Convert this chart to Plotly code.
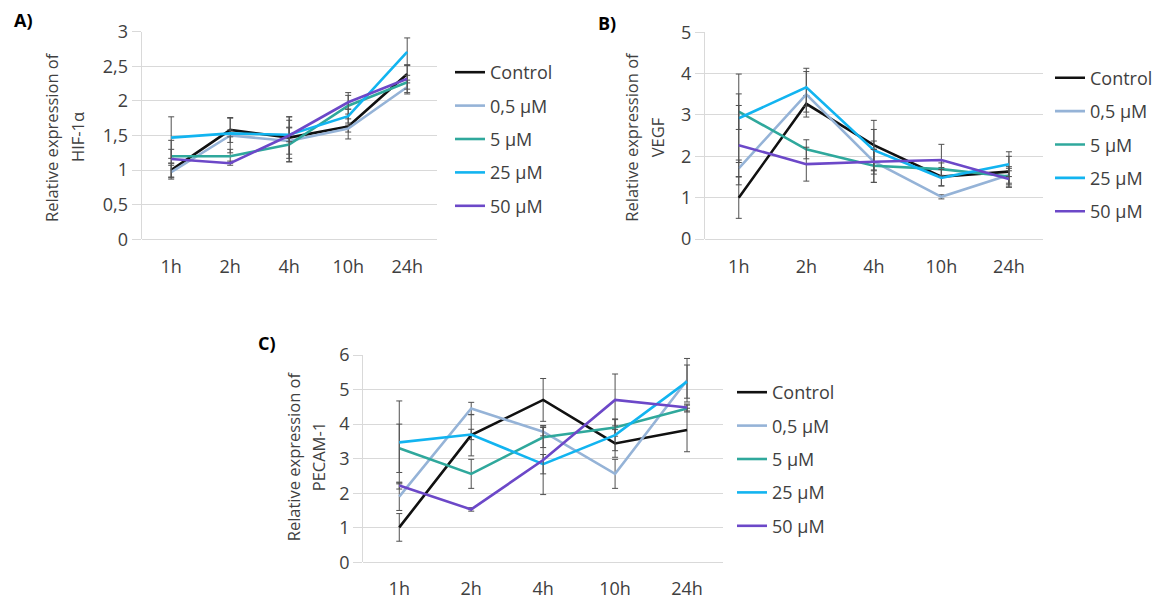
import plotly.graph_objects as go

# Time points and treatment groups
times = ["1h", "2h", "4h", "10h", "24h"]
groups = ["Control", "0,5 µM", "5 µM", "25 µM", "50 µM"]
group_colors = ["#111111", "#95b3d7", "#2fa89c", "#12b4f0", "#6c48c8"]

# A) HIF-1α relative expression (mean per group, same order as `groups`)
hif_mean = [
    [1.00, 1.58, 1.47, 1.63, 2.39],
    [0.97, 1.50, 1.42, 1.60, 2.20],
    [1.20, 1.20, 1.37, 1.93, 2.27],
    [1.47, 1.53, 1.51, 1.78, 2.71],
    [1.16, 1.10, 1.50, 1.98, 2.32],
]
hif_err = [
    [0.10, 0.18, 0.30, 0.18, 0.13],
    [0.10, 0.25, 0.30, 0.05, 0.10],
    [0.10, 0.10, 0.25, 0.19, 0.10],
    [0.30, 0.05, 0.10, 0.10, 0.20],
    [0.27, 0.03, 0.27, 0.10, 0.20],
]

# B) VEGF relative expression
vegf_mean = [
    [1.00, 3.27, 2.27, 1.51, 1.63],
    [1.71, 3.50, 1.87, 1.02, 1.55],
    [3.08, 2.17, 1.77, 1.69, 1.51],
    [2.92, 3.67, 2.15, 1.48, 1.81],
    [2.27, 1.81, 1.87, 1.91, 1.45],
]
vegf_err = [
    [0.50, 0.20, 0.60, 0.22, 0.37],
    [0.20, 0.55, 0.50, 0.05, 0.20],
    [0.43, 0.23, 0.40, 0.15, 0.20],
    [1.07, 0.46, 0.50, 0.20, 0.30],
    [0.96, 0.41, 0.30, 0.38, 0.20],
]

# C) PECAM-1 relative expression
pecam_mean = [
    [1.01, 3.68, 4.70, 3.44, 3.83],
    [1.90, 4.45, 3.78, 2.56, 5.27],
    [3.30, 2.56, 3.62, 3.90, 4.45],
    [3.47, 3.70, 2.84, 3.68, 5.23],
    [2.22, 1.53, 2.96, 4.70, 4.48],
]
pecam_err = [
    [0.40, 0.60, 0.62, 0.40, 0.63],
    [0.40, 0.18, 0.12, 0.42, 0.63],
    [0.70, 0.42, 0.30, 0.25, 0.10],
    [1.20, 0.15, 0.28, 0.45, 0.48],
    [0.10, 0.05, 1.00, 0.75, 0.10],
]

TEXT = "#404040"
GRID = "#d9d9d9"
FONT = "Open Sans"
FS = 18

panels = [
    # (means, errors, x-axis, y-axis, legend)
    (hif_mean, hif_err, "x", "y", "legend"),
    (vegf_mean, vegf_err, "x2", "y2", "legend2"),
    (pecam_mean, pecam_err, "x3", "y3", "legend3"),
]

fig = go.Figure()
for means, errs, xa, ya, lg in panels:
    for k, name in enumerate(groups):
        fig.add_trace(go.Scatter(
            x=times, y=means[k], name=name, mode="lines",
            line=dict(color=group_colors[k], width=2.6),
            error_y=dict(type="data", array=errs[k], visible=True,
                         color="#505050", thickness=1, width=3),
            xaxis=xa, yaxis=ya, legend=lg, legendgroup=f"{lg}-{k}",
        ))

# Plot-area geometry in paper fractions (1162 x 600 page)
W, H = 1162.0, 600.0
def dom_x(a, b):
    return [a / W, b / W]
def dom_y(top, bottom):
    return [1 - bottom / H, 1 - top / H]

def x_common(gap):
    return dict(type="category", categoryorder="array", categoryarray=times,
                range=[-0.5, 4.5], showgrid=False, zeroline=False, showline=False,
                ticks="outside", ticklen=gap, tickcolor="rgba(0,0,0,0)", automargin=False,
                tickfont=dict(family=FONT, size=FS, color=TEXT), fixedrange=True)

def y_common(ymax, step):
    return dict(range=[0, ymax], dtick=step, tick0=0, showgrid=True, gridcolor=GRID,
                gridwidth=1.3, zeroline=True, zerolinecolor=GRID, zerolinewidth=1.3,
                showline=True, linecolor=GRID, linewidth=1.3, automargin=False,
                ticks="outside", ticklen=9, tickcolor=GRID, tickwidth=1.3,
                tickfont=dict(family=FONT, size=FS, color=TEXT), fixedrange=True)

fig.update_layout(
    width=1162, height=600,
    margin=dict(l=0, r=0, t=0, b=0, autoexpand=False),
    paper_bgcolor="white", plot_bgcolor="white",
    separators=", ",
    font=dict(family=FONT, size=FS, color=TEXT),
    xaxis=dict(domain=dom_x(141.7, 436.7), anchor="y", **x_common(11)),
    yaxis=dict(domain=dom_y(31.7, 239.3), anchor="x", **y_common(3, 0.5)),
    xaxis2=dict(domain=dom_x(705.0, 1042.7), anchor="y2", **x_common(11)),
    yaxis2=dict(domain=dom_y(32.3, 239.0), anchor="x2", **y_common(5, 1)),
    xaxis3=dict(domain=dom_x(363.3, 723.0), anchor="y3", **x_common(10)),
    yaxis3=dict(domain=dom_y(355.0, 562.3), anchor="x3", **y_common(6, 1)),
)

legend_style = dict(font=dict(family=FONT, size=FS, color=TEXT), bgcolor="rgba(0,0,0,0)",
                    tracegroupgap=7, itemwidth=30, xanchor="left", yanchor="top",
                    itemclick=False, itemdoubleclick=False)
fig.update_layout(
    legend=dict(x=450 / W, y=1 - 54 / H, **legend_style),
    legend2=dict(x=1050 / W, y=1 - 59.5 / H, **legend_style),
    legend3=dict(x=732 / W, y=1 - 374 / H, **legend_style),
)

# Two-line axis titles, one annotation per line
titles = [
    ("Relative expression of", 52, 137), ("HIF-1α", 78, 137),
    ("Relative expression of", 631.7, 137), ("VEGF", 658.3, 137),
    ("Relative expression of", 293.3, 456), ("PECAM-1", 318.3, 456),
]
for text, tx, ty in titles:
    fig.add_annotation(xref="paper", yref="paper", x=tx / W, y=1 - ty / H, text=text,
                       showarrow=False, textangle=-90, xanchor="center", yanchor="middle",
                       font=dict(family=FONT, size=16.5, color=TEXT))

# Panel letters
for label, lx, ly in [("A)", 12, 20), ("B)", 596, 23), ("C)", 256, 343)]:
    fig.add_annotation(xref="paper", yref="paper", x=lx / W, y=1 - ly / H, text=f"<b>{label}</b>",
                       showarrow=False, xanchor="left", yanchor="middle",
                       font=dict(family=FONT, size=18, color="#000000"))

fig.write_html("out.html")
